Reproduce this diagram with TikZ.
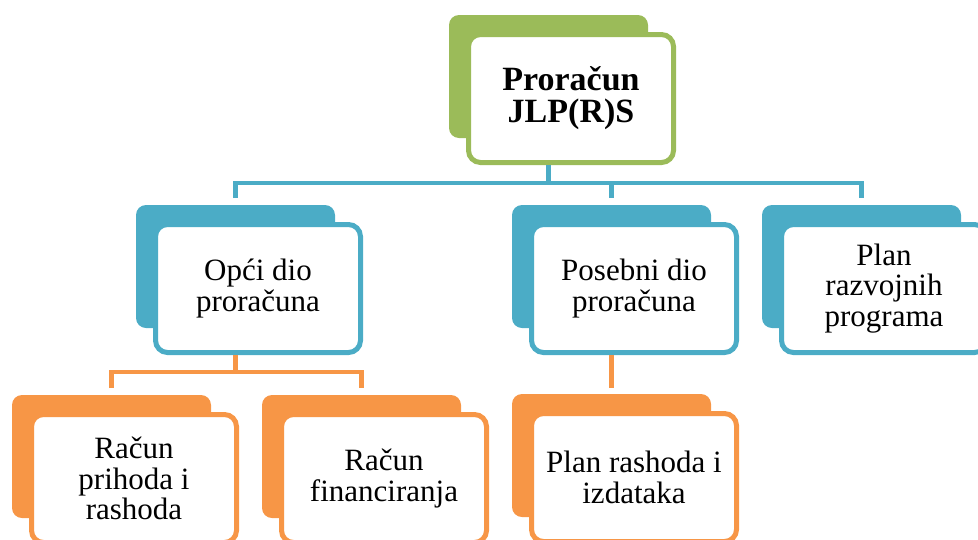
\documentclass[tikz,border=0pt]{standalone}
\usepackage{fontspec}
\setmainfont{Liberation Serif}
\definecolor{cgreen}{HTML}{9BBB59}
\definecolor{cteal}{HTML}{4BACC6}
\definecolor{corange}{HTML}{F79646}
\tikzset{
  backbox/.style={rectangle, rounded corners=10pt, minimum width=199pt, minimum height=123pt, inner sep=0pt, outer sep=0pt},
  frontbox/.style={rectangle, rounded corners=12pt, fill=white, line width=5pt, minimum width=205pt, minimum height=128pt, inner sep=0pt, outer sep=0pt, align=center, font=\fontsize{31}{30.5}\selectfont},
  topfont/.style={font=\bfseries\fontsize{34}{32}\selectfont},
  tealline/.style={draw=cteal, line width=4.5pt},
  orangeline/.style={draw=corange, line width=4.5pt},
}
\begin{document}
\begin{tikzpicture}[x=1pt,y=-1pt]
\useasboundingbox (0,0) rectangle (978,539);
\coordinate (bus1) at (548.5,183);
\coordinate (bus2) at (235.5,372);
% top
\node[backbox, fill=cgreen] (topb) at (548.5,76.5) {};
\node[frontbox, draw=cgreen, topfont] (top) at (571,98.5) {Proračun\\JLP(R)S};
% second row
\node[backbox, fill=cteal] (oplb) at (235.5,266.5) {};
\node[frontbox, draw=cteal] (opl) at (258,288.5) {Opći dio\\proračuna};
\node[backbox, fill=cteal] (posb) at (611.5,266.5) {};
\node[frontbox, draw=cteal] (pos) at (634,288.5) {Posebni dio\\proračuna};
\node[backbox, fill=cteal] (razb) at (861.5,266.5) {};
\node[frontbox, draw=cteal] (raz) at (884,288.5) {Plan\\razvojnih\\programa};
% third row
\node[backbox, fill=corange] (prihb) at (111.5,456.5) {};
\node[frontbox, draw=corange] (prih) at (134,478.5) {Račun\\prihoda i\\rashoda};
\node[backbox, fill=corange] (finb) at (361.5,456.5) {};
\node[frontbox, draw=corange] (fin) at (384,478.5) {Račun\\financiranja};
\node[backbox, fill=corange] (rashb) at (611.5,455.5) {};
\node[frontbox, draw=corange] (rash) at (634,477.5) {Plan rashoda i\\izdataka};
% teal connectors
\draw[tealline, shorten <=2.5pt] (topb.south |- top.south) -- (topb.south |- bus1);
\draw[tealline, shorten <=7pt, shorten >=7pt] (oplb.north) -- (oplb.north |- bus1) -- (razb.north |- bus1) -- (razb.north);
\draw[tealline, shorten >=7pt] (posb.north |- bus1) -- (posb.north);
% orange connectors
\draw[orangeline, shorten <=2.5pt] (oplb.south |- opl.south) -- (oplb.south |- bus2);
\draw[orangeline, shorten <=7pt, shorten >=7pt] (prihb.north) -- (prihb.north |- bus2) -- (finb.north |- bus2) -- (finb.north);
\draw[orangeline, shorten <=2.5pt, shorten >=6pt] (posb.south |- pos.south) -- (rashb.north);
\end{tikzpicture}
\end{document}
